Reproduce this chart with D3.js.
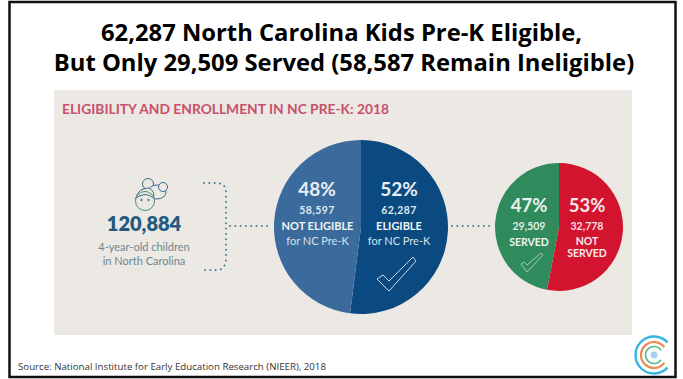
<!DOCTYPE html>
<html><head><meta charset="utf-8">
<style>html,body{margin:0;padding:0;background:#fff}svg{display:block}text{font-family:Lato,"Noto Sans",sans-serif}</style>
<script src="https://cdn.jsdelivr.net/npm/d3@7"></script></head><body>
<svg id="c" width="683" height="379"></svg>
<script>
const titleLines = ["62,287 North Carolina Kids Pre-K Eligible,", "But Only 29,509 Served (58,587 Remain Ineligible)"];
const subtitle = "ELIGIBILITY AND ENROLLMENT IN NC PRE-K: 2018";
const source = "Source: National Institute for Early Education Research (NIEER), 2018";
const eligibilityCategories = ["ELIGIBLE", "NOT ELIGIBLE"];
const eligibilityPct = [52, 48];
const eligibilityCounts = ["62,287", "58,597"];
const eligibilityColors = ["#0b4a80", "#3a6b9c"];
const servedCategories = ["NOT SERVED", "SERVED"];
const servedPct = [53, 47];
const servedCounts = ["32,778", "29,509"];
const servedColors = ["#d3142f", "#2f8a5c"];

const svg = d3.select("#c");
svg.append("rect").attr("x",9.5).attr("y",2).attr("width",666).attr("height",375).attr("fill","#fff").attr("stroke","#111").attr("stroke-width",2.5);
svg.append("rect").attr("x",54).attr("y",90).attr("width",578).attr("height",245).attr("fill","#ece8e3");

function txt(x,y,s,size,weight,fill,anchor="middle",family=null){
  const t=svg.append("text").attr("x",x).attr("y",y).text(s).attr("font-size",size).attr("font-weight",weight).attr("fill",fill).attr("text-anchor",anchor);
  if(family) t.style("font-family",family);
  return t;
}
const titleFont='"Open Sans",sans-serif';
txt(341.5,41,titleLines[0],23.8,700,"#000","middle",titleFont);
txt(344,71,titleLines[1],23.8,700,"#000","middle",titleFont);
txt(62,114,subtitle,13.8,700,"#c9506c","start");
txt(18,370,source,9.7,400,"#333","start",'"Open Sans",sans-serif');

function drawPie(cx,cy,r,vals,colors){
  const pie=d3.pie().sort(null)(vals);
  const arc=d3.arc().innerRadius(0).outerRadius(r);
  svg.append("g").attr("transform",`translate(${cx},${cy})`).selectAll("path").data(pie).join("path").attr("d",arc).attr("fill",(d,i)=>colors[i]);
}
drawPie(361,227,87,eligibilityPct,eligibilityColors);
drawPie(559,227,64,servedPct,servedColors);

// Big pie labels
txt(317,196,eligibilityPct[1]+"%",19,700,"#e8eef2");
txt(399,196,eligibilityPct[0]+"%",19,700,"#e8eef2");
txt(317,214,eligibilityCounts[1],10.5,700,"#dfe8ee").attr("letter-spacing",.4);
txt(399,214,eligibilityCounts[0],10.5,700,"#dfe8ee").attr("letter-spacing",.4);
txt(317.5,230,eligibilityCategories[1],11,700,"#f2f4f5");
txt(399,230,eligibilityCategories[0],11,700,"#f2f4f5");
txt(317.5,245,"for NC Pre-K",11,400,"#d6e1ea");
txt(399,245,"for NC Pre-K",11,400,"#d6e1ea");
// Small pie labels
txt(529,212,servedPct[1]+"%",18.5,700,"#eaf3ee");
txt(587,212,servedPct[0]+"%",18.5,700,"#f7e6e8");
txt(529,230,servedCounts[1],10.5,700,"#e2efe8");
txt(587,230,servedCounts[0],10.5,700,"#f6dfe2");
txt(529,246,"SERVED",10.5,700,"#f0f6f2");
txt(587,245,"NOT",10.5,700,"#f8eaec");
txt(587,257,"SERVED",10.5,700,"#f8eaec");

// Checkmarks
function check(pts,color,w){
  const l=d3.line().curve(d3.curveLinearClosed);
  svg.append("path").attr("d",l(pts)).attr("fill","none").attr("stroke",color).attr("stroke-width",w).attr("stroke-linejoin","round");
}
check([[377,279],[383,275],[389,281],[413,257],[416,261],[389,291]],"#c9d8e4",1);
check([[521,264],[524,262],[527,265],[541,253],[543,255],[527,272]],"#bfdccd",.8);

// People icon
const icon=svg.append("g").attr("fill","#ece8e3").attr("stroke","#3b6f88").attr("stroke-width",1);
icon.append("circle").attr("cx",148).attr("cy",184).attr("r",5.5);
icon.append("ellipse").attr("cx",157).attr("cy",192).attr("rx",9).attr("ry",7);
icon.append("circle").attr("cx",163).attr("cy",187).attr("r",4.5);
icon.append("path").attr("d","M136 198 Q138 188 149 188 Q156 192 153 199");
icon.append("circle").attr("cx",145).attr("cy",201).attr("r",9.5).attr("stroke","#4c8f72");
icon.append("path").attr("d","M135 199 Q145 190 155 199");
icon.append("circle").attr("cx",141.5).attr("cy",200).attr("r",.7).attr("fill","#3b6f88");
icon.append("circle").attr("cx",148.5).attr("cy",200).attr("r",.7).attr("fill","#3b6f88");

txt(144,231,"120,884",20,800,"#235a7e");
txt(144,251,"4-year-old children",11,400,"#70868d");
txt(144,265,"in North Carolina",11,400,"#70868d");

// Dotted connectors
const dots=(d,c="#3f7f94")=>svg.append("path").attr("d",d).attr("fill","none").attr("stroke",c).attr("stroke-width",2).attr("stroke-linecap","round").attr("stroke-dasharray","0 5.3");
dots("M204 183 H218 Q226 184 226 193 V258 Q226 269 218 270 H204");
dots("M230 226 H272");
dots("M452 226 H494");

// Logo
const logo=svg.append("g").attr("fill","none").attr("stroke-linecap","round");
const logoArc=(r,c,w,g)=>logo.append("path").attr("transform","translate(654,355)").attr("d",d3.arc().innerRadius(r).outerRadius(r).startAngle(Math.PI/2+g).endAngle(Math.PI*2.5-g)()).attr("stroke",c).attr("stroke-width",w);
logoArc(18.5,"#35b6e0",2.4,.75);logoArc(13,"#e98a55",2.2,.65);logoArc(8.5,"#59b98a",1.6,.6);
logo.append("circle").attr("cx",654).attr("cy",355).attr("r",3.5).attr("fill","#a9cdf0");
</script></body></html>
